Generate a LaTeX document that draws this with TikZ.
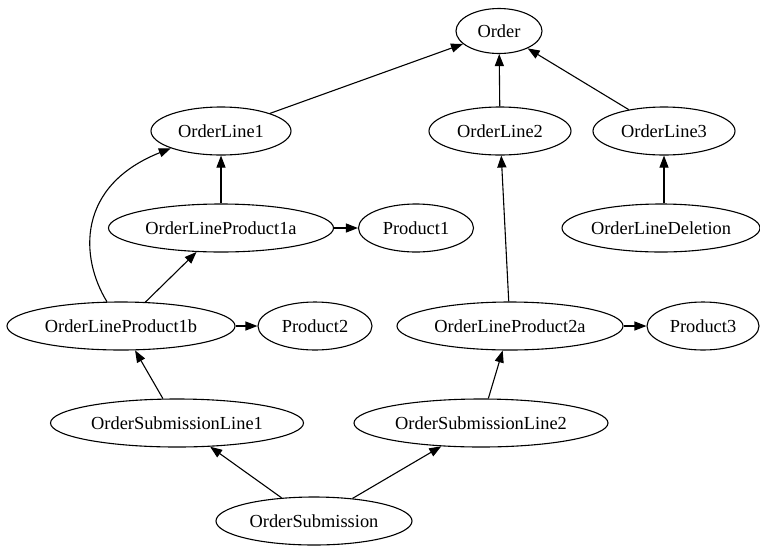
\documentclass[tikz,border=0pt]{standalone}
\usepackage{fontspec}
\setmainfont{Liberation Serif}
\usetikzlibrary{shapes.geometric,arrows.meta}
\begin{document}
\begin{tikzpicture}[x=1pt,y=-1pt,
  nd/.style={ellipse,draw,line width=1.1pt,inner sep=0pt,minimum height=48pt,
    font=\fontsize{18.4}{22}\selectfont},
  edge/.style={line width=1.1pt,-{Triangle[length=12pt,width=9pt]}}]
\fill[white] (0,0) rectangle (760,547);
\useasboundingbox (0,0) rectangle (760,547);
\node[nd,minimum width=86pt,minimum height=45pt] (order) at (499,31) {Order};
\node[nd,minimum width=140pt] (ol1) at (221,131) {OrderLine1};
\node[nd,minimum width=142pt] (ol2) at (500,131) {OrderLine2};
\node[nd,minimum width=142pt] (ol3) at (664,131) {OrderLine3};
\node[nd,minimum width=225pt] (p1a) at (221,228) {OrderLineProduct1a};
\node[nd,minimum width=115pt] (pr1) at (416,228) {Product1};
\node[nd,minimum width=196pt] (old) at (661,228) {OrderLineDeletion};
\node[nd,minimum width=228pt] (p1b) at (121,326) {OrderLineProduct1b};
\node[nd,minimum width=114pt] (pr2) at (315,326) {Product2};
\node[nd,minimum width=226pt] (p2a) at (510,326) {OrderLineProduct2a};
\node[nd,minimum width=112pt] (pr3) at (703,326) {Product3};
\node[nd,minimum width=253pt] (osl1) at (177,423) {OrderSubmissionLine1};
\node[nd,minimum width=254pt] (osl2) at (481,423) {OrderSubmissionLine2};
\node[nd,minimum width=196pt] (os) at (314,521) {OrderSubmission};
\draw[edge] (ol1) -- (order);
\draw[edge] (ol2) -- (order);
\draw[edge] (ol3) -- (order);
\draw[edge] (p1a) -- (ol1);
\draw[edge] (p1a) -- (pr1);
\draw[edge] (old.north -| ol3) -- (ol3);
\draw[edge] (p1b) -- (p1a);
\draw[edge] (p1b.120) .. controls (80,258) and (76,186) .. (ol1.199);
\draw[edge] (p1b) -- (pr2);
\draw[edge] (p2a) -- (ol2);
\draw[edge] (p2a) -- (pr3);
\draw[edge] (osl1) -- (p1b);
\draw[edge] (osl2) -- (p2a);
\draw[edge] (os) -- (osl1);
\draw[edge] (os) -- (osl2);
\end{tikzpicture}
\end{document}
